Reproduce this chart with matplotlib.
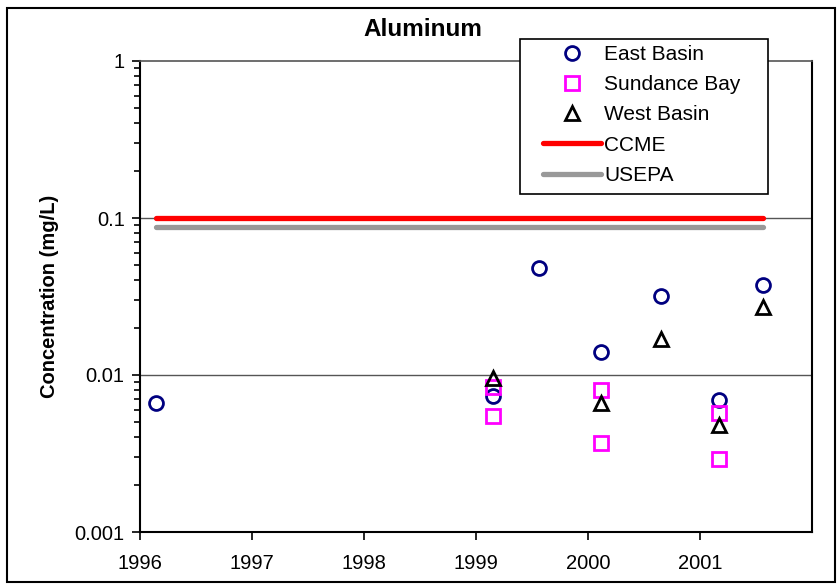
import matplotlib
matplotlib.use("Agg")
import matplotlib.pyplot as plt
from matplotlib.ticker import LogLocator, NullFormatter, FixedLocator
from matplotlib.lines import Line2D

plt.rcParams['font.family'] = ['Liberation Sans', 'DejaVu Sans']

# sampling dates (decimal years) and aluminum concentrations (mg/L)
east_dates = [1996.14, 1999.15, 1999.56, 2000.12, 2000.65, 2001.17, 2001.56]
east_al = [0.0066, 0.0074, 0.048, 0.0141, 0.0318, 0.0069, 0.0372]

sundance_dates = [1999.15, 1999.15, 2000.12, 2000.12, 2001.17, 2001.17]
sundance_al = [0.0084, 0.0055, 0.0080, 0.0037, 0.0057, 0.0029]

west_dates = [1999.15, 2000.12, 2000.65, 2001.17, 2001.56]
west_al = [0.0095, 0.0066, 0.0170, 0.0048, 0.0271]

# guideline values
guide_dates = [1996.14, 2001.56]
ccme = 0.1
usepa = 0.087

years = [1996, 1997, 1998, 1999, 2000, 2001]

W, H = 839, 584
fig = plt.figure(figsize=(W / 100, H / 100), dpi=100)
ax = fig.add_axes([140 / W, 1 - 532 / H, (812 - 140) / W, (532 - 61) / H])

ax.set_yscale('log')
ax.set_ylim(0.001, 1)
ax.set_xlim(1996, 2002)

# horizontal gridlines at decades only
for v in [0.01, 0.1]:
    ax.axhline(v, color='#555555', lw=1.0, zorder=1)

ax.plot(guide_dates, [ccme, ccme], color='#ff0000', lw=3.8,
        solid_capstyle='round', zorder=2)
ax.plot(guide_dates, [usepa, usepa], color='#999999', lw=3.8,
        solid_capstyle='round', zorder=2)

ax.plot(east_dates, east_al, ls='none', marker='o', ms=10, mfc='none',
        mec='#000080', mew=2.0, zorder=3)
ax.plot(sundance_dates, sundance_al, ls='none', marker='s', ms=9.5, mfc='none',
        mec='#ff00ff', mew=2.0, zorder=3)
ax.plot(west_dates, west_al, ls='none', marker='^', ms=10, mfc='none',
        mec='black', mew=2.0, zorder=4)

ax.xaxis.set_major_locator(FixedLocator(years))
ax.set_xticklabels([str(y) for y in years])
ax.yaxis.set_minor_locator(LogLocator(base=10, subs=range(2, 10), numticks=10))
ax.yaxis.set_minor_formatter(NullFormatter())
ax.set_yticks([0.001, 0.01, 0.1, 1])
ax.set_yticklabels(['0.001', '0.01', '0.1', '1'])

ax.tick_params(axis='both', which='major', direction='out', length=6,
               width=1.2, labelsize=14.5, pad=5, colors='black')
ax.tick_params(axis='y', which='minor', direction='out', length=4, width=1.2)
ax.tick_params(axis='x', pad=10)

for side in ['left', 'bottom', 'right']:
    ax.spines[side].set_linewidth(1.5)
    ax.spines[side].set_color('black')
ax.spines['top'].set_linewidth(1.2)
ax.spines['top'].set_color('#555555')

ax.set_ylabel('Concentration (mg/L)', fontsize=14.5, fontweight='bold', labelpad=11)
fig.text(423 / W, 1 - 29 / H, 'Aluminum', fontsize=17.5, fontweight='bold',
         ha='center', va='center')

handles = [
    Line2D([], [], ls='none', marker='o', ms=10, mfc='none', mec='#000080', mew=2.0),
    Line2D([], [], ls='none', marker='s', ms=9.5, mfc='none', mec='#ff00ff', mew=2.0),
    Line2D([], [], ls='none', marker='^', ms=10, mfc='none', mec='black', mew=2.0),
    Line2D([], [], color='#ff0000', lw=3.8, solid_capstyle='round'),
    Line2D([], [], color='#999999', lw=3.8, solid_capstyle='round'),
]
labels = ['East Basin', 'Sundance Bay', 'West Basin', 'CCME', 'USEPA']

# legend box drawn separately so its padding can be set freely
fig.patches.append(plt.Rectangle((520 / W, 1 - 194 / H), 248 / W, 155.5 / H,
                                 transform=fig.transFigure, facecolor='white',
                                 edgecolor='black', lw=1.2, zorder=9))
leg = fig.legend(handles, labels, loc='center left',
                 bbox_to_anchor=(543 / W, 1 - 115 / H),
                 fontsize=15, frameon=False, handlelength=2.8, handletextpad=0.15,
                 labelspacing=0.54, borderpad=0, borderaxespad=0)
leg.set_zorder(10)

# outer chart border
fig.patches.append(plt.Rectangle((6.5 / W, 2 / H), 828.5 / W, 574.5 / H,
                                 transform=fig.transFigure, fill=False,
                                 edgecolor='black', lw=1.5))

fig.savefig('out.png', dpi=100)
